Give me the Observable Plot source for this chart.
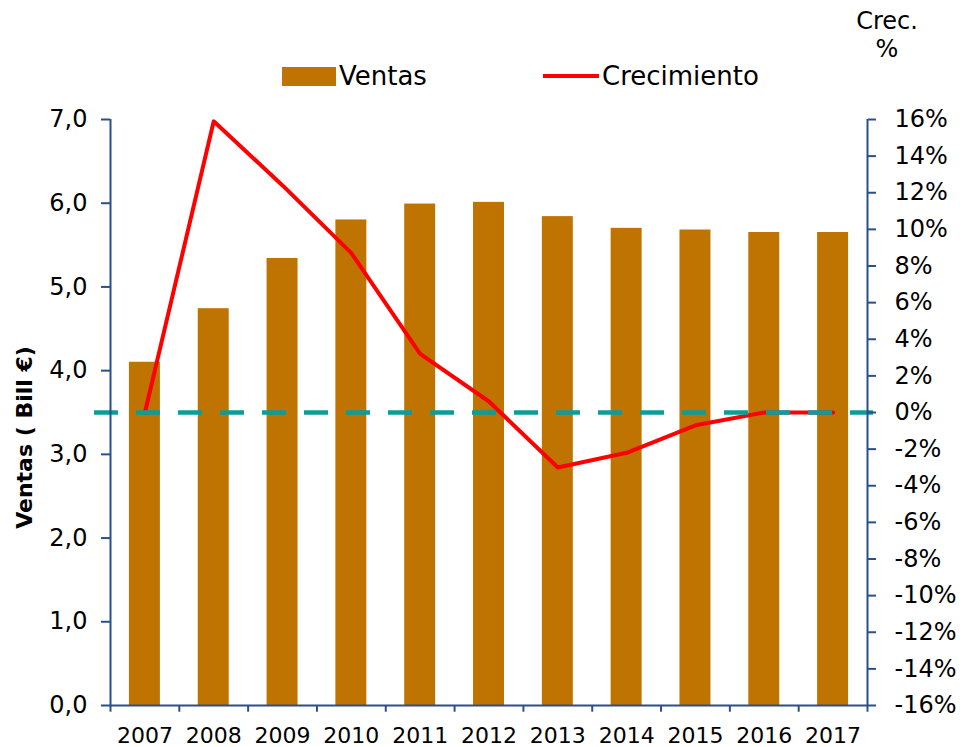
<!DOCTYPE html>
<html>
<head>
<meta charset="utf-8">
<script src="https://cdn.jsdelivr.net/npm/d3@7"></script>
<script src="https://cdn.jsdelivr.net/npm/@observablehq/plot@0.6"></script>
<style>
  html, body { margin: 0; padding: 0; background: #fff; }
  #wrap { position: relative; width: 963px; height: 747px; font-family: "DejaVu Sans", Verdana, sans-serif; }
  #wrap svg { position: absolute; left: 0; top: 0; }
  .lg { position: absolute; font-size: 26px; line-height: 26px; color: #000; }
</style>
</head>
<body>
<div id="wrap"></div>
<script>
const years = [2007, 2008, 2009, 2010, 2011, 2012, 2013, 2014, 2015, 2016, 2017];
const ventas = [4.10, 4.74, 5.34, 5.80, 5.99, 6.01, 5.84, 5.70, 5.68, 5.65, 5.65];
const crecimiento = [0, 15.9, 12.4, 8.7, 3.2, 0.6, -3.0, -2.2, -0.7, 0, 0];
const ventasTicks = [0, 1, 2, 3, 4, 5, 6, 7];
const crecTicks = [-16, -14, -12, -10, -8, -6, -4, -2, 0, 2, 4, 6, 8, 10, 12, 14, 16];

const data = years.map((y, i) => ({year: y, ventas: ventas[i], crec: crecimiento[i]}));
const toLeft = p => (p + 16) / 32 * 7;   // map % onto the left (Bill €) scale
const axisColor = "#2b4f8a";
const W = 963, H = 747, mL = 110, mR = 96, mT = 119, mB = 42;
const step = (W - mL - mR) / years.length;

const chart = Plot.plot({
  width: W, height: H,
  marginTop: mT, marginBottom: mB, marginLeft: mL, marginRight: mR,
  style: {fontFamily: "'DejaVu Sans', Verdana, sans-serif", fontSize: "23px", color: "#000", background: "transparent", overflow: "visible"},
  x: {type: "band", domain: years, paddingInner: 0.55, paddingOuter: 0.275, round: false, label: null},
  y: {domain: [0, 7], label: null},
  marks: [
    Plot.barY(data, {x: "year", y: "ventas", fill: "#bf7300"}),
    Plot.line(data, {x: "year", y: d => toLeft(d.crec), stroke: "#ff0000", strokeWidth: 4}),
    Plot.ruleY([toLeft(0)], {stroke: "#0e9c99", strokeWidth: 4.5, strokeDasharray: "24,18", insetLeft: -16, insetRight: -6}),
    // axis lines
    Plot.ruleY([0], {stroke: axisColor, strokeWidth: 2}),
    Plot.ruleX([years[0]], {x: d => d, dx: -step / 2, y1: 0, y2: 7, stroke: axisColor, strokeWidth: 2}),
    Plot.ruleX([years[years.length - 1]], {x: d => d, dx: step / 2, y1: 0, y2: 7, stroke: axisColor, strokeWidth: 2}),
    // bottom category boundary ticks
    Plot.ruleX(years, {x: d => d, dx: -step / 2, y1: 0, y2: -0.08, stroke: axisColor, strokeWidth: 2}),
    Plot.ruleX([years[years.length - 1]], {x: d => d, dx: step / 2, y1: 0, y2: -0.08, stroke: axisColor, strokeWidth: 2}),
    Plot.axisX({anchor: "bottom", tickSize: 0, tickPadding: 22, fontSize: 22, tickFormat: d => String(d), label: null}),
    Plot.axisY(ventasTicks, {anchor: "left", tickSize: 9, tickPadding: 14, stroke: axisColor, strokeWidth: 2, fontSize: 24,
      tickFormat: d => d.toFixed(1).replace(".", ","), label: null}),
    Plot.axisY(crecTicks.map(toLeft), {anchor: "right", tickSize: 8, tickPadding: 19, stroke: axisColor, strokeWidth: 2, fontSize: 24,
      tickFormat: d => Math.round(d * 32 / 7 - 16) + "%", label: null}),
    Plot.text(["Ventas ( Bill €)"], {frameAnchor: "left", dx: -86, dy: 25, rotate: -90, textAnchor: "middle", fontWeight: "bold", fontSize: 22, fill: "#000"})
  ]
});

const wrap = document.getElementById("wrap");
wrap.appendChild(chart);

function addDiv(html, css, cls) {
  const d = document.createElement("div");
  if (cls) d.className = cls;
  d.innerHTML = html;
  Object.assign(d.style, css);
  wrap.appendChild(d);
}
addDiv("", {position: "absolute", left: "282px", top: "67px", width: "54px", height: "19px", background: "#bf7300"});
addDiv("Ventas", {left: "339px", top: "63px"}, "lg");
addDiv("", {position: "absolute", left: "543px", top: "74px", width: "56px", height: "4px", background: "#ff0000"});
addDiv("Crecimiento", {left: "602px", top: "63px"}, "lg");
addDiv("Crec.<br>%", {position: "absolute", left: "837px", top: "7px", width: "100px", textAlign: "center", fontSize: "24px", lineHeight: "28px", color: "#000"});
</script>
</body>
</html>
